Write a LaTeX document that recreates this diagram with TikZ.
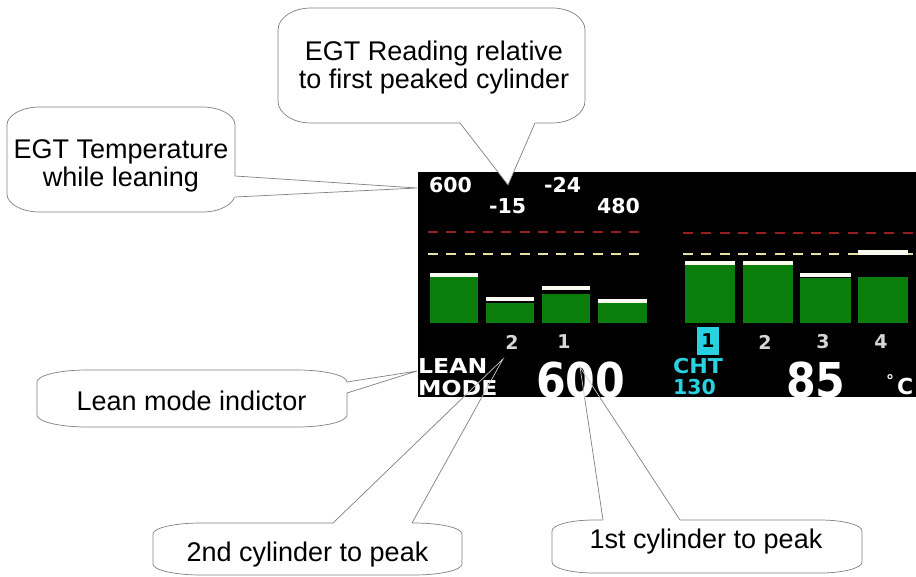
\documentclass[tikz,border=0pt]{standalone}
\usepackage{fontspec}
\usepackage{graphicx}
\setmainfont{Liberation Sans}
\newfontfamily\lcdfont{DejaVu Sans}
\definecolor{outl}{RGB}{128,128,128}
\definecolor{inl}{RGB}{200,200,200}
\definecolor{bargreen}{RGB}{10,125,10}
\definecolor{capwhite}{RGB}{250,250,240}
\definecolor{dashred}{RGB}{150,30,30}
\definecolor{dashyel}{RGB}{230,225,160}
\definecolor{lcdcyan}{RGB}{40,210,225}
\definecolor{lbl}{RGB}{215,215,215}
\tikzset{
  bubblestyle/.style={draw=outl, fill=white, line width=0.7pt},
  ptrline/.style={draw=outl, line width=0.7pt},
  ptrinner/.style={draw=inl, line width=0.7pt},
  calltext/.style={font=\fontsize{27}{28}\selectfont, align=center, inner sep=0pt, text=black},
  lcd/.style={font=\lcdfont\bfseries\fontsize{20.5}{22}\selectfont, inner sep=0pt, text=white, anchor=base west},
  lcdlbl/.style={font=\lcdfont\bfseries\fontsize{19}{20}\selectfont, inner sep=0pt, text=lbl},
  lcdbig/.style={font=\lcdfont\bfseries\fontsize{48}{50}\selectfont, inner sep=0pt, text=white, anchor=base west},
  dashline/.style={line width=2.6pt, dash pattern=on 10pt off 8.3pt},
}
% x1 y1 x2 y2 rx ry
\newcommand\bubble[6]{%
  \filldraw[bubblestyle] (#1,#2+#6)
    arc[start angle=180,end angle=90,x radius=#5pt,y radius=#6pt] -- (#3-#5,#2)
    arc[start angle=90,end angle=0,x radius=#5pt,y radius=#6pt] -- (#3,#4-#6)
    arc[start angle=0,end angle=-90,x radius=#5pt,y radius=#6pt] -- (#1+#5,#4)
    arc[start angle=270,end angle=180,x radius=#5pt,y radius=#6pt] -- cycle;}
% b1 b2 tip b1in b2in
\newcommand\pointer[5]{%
  \fill[white] (#4) -- (#1) -- (#3) -- (#2) -- (#5) -- cycle;
  \draw[ptrline] (#1) -- (#3) -- (#2);}
% x1 x2 capTop capBottom greenTop
\newcommand\egtbar[5]{%
  \fill[bargreen] (#1,#5) rectangle (#2,323);
  \fill[capwhite] (#1,#3) rectangle (#2,#4);}
\begin{document}
\begin{tikzpicture}[x=1pt,y=-1pt]
\useasboundingbox (0,0) rectangle (916,576);
\fill[white] (0,0) rectangle (916,576);

% tips
\coordinate (tip1) at (417,188);
\coordinate (tip2) at (508,185);
\coordinate (tip3) at (417,371);
\coordinate (tip4) at (503,359);
\coordinate (tip5) at (580,367);

% lower callouts (under the display)
\bubble{37}{370}{347}{427}{50}{12}
\pointer{347,382}{347,393}{tip3}{344,382}{344,393}
\bubble{153}{523}{462}{575}{48}{11}
\pointer{333,523}{412,523}{tip4}{333,526}{412,526}
\bubble{552}{520}{862}{573}{42}{11}
\pointer{603,520}{680,520}{tip5}{603,523}{680,523}

% display
\fill[black] (418,172) rectangle (916,397);
\begin{scope}
\clip (418,172) rectangle (916,397);
\draw[dashline, dashred] (428,232) -- (642,232);
\draw[dashline, dashred] (683,233) -- (916,233);
\draw[dashline, dashyel] (428,254) -- (642,254);
\draw[dashline, dashyel] (683,254) -- (916,254);
\egtbar{430}{478}{273}{277.3}{277.3}
\egtbar{486}{534}{296.5}{300.5}{303}
\egtbar{542}{590}{286}{290}{294}
\egtbar{598}{647}{299}{303}{303}
\egtbar{685}{735}{261}{265}{265}
\egtbar{743}{793}{261}{265}{265}
\egtbar{800}{851}{273}{277}{278}
\egtbar{858}{908}{250}{255}{277}
\node[lcd] (n600) at (429,192) {600};
\node[lcd] (nm24) at (544,192) {-24};
\node[lcd] (nm15) at (489,213) {-15};
\node[lcd] (n480) at (597,213) {480};
\node[lcdlbl] (l2a) at (512,342) {2};
\node[lcdlbl] (l1a) at (564,342) {1};
\fill[lcdcyan] (697,327) rectangle (719,355);
\node[lcdlbl, text=black] (l1b) at (708,341) {1};
\node[lcdlbl] (l2b) at (765,342) {2};
\node[lcdlbl] (l3b) at (823,342) {3};
\node[lcdlbl] (l4b) at (881,342) {4};
\node[lcd] (lean) at (418,373) {\scalebox{1.15}[1]{LEAN}};
\node[lcd] (mode) at (418,395) {\scalebox{1.15}[1]{MODE}};
\node[lcd, text=lcdcyan] (cht) at (673,373) {\scalebox{1.08}[1]{CHT}};
\node[lcd, text=lcdcyan] (c130) at (673,394) {130};
\node[lcdbig] (big600) at (536,397) {\scalebox{0.89}[1]{600}};
\node[lcdbig] (big85) at (786,397) {\scalebox{0.89}[1]{85}};
\node[font=\lcdfont\bfseries\fontsize{16}{18}\selectfont, text=white, inner sep=0pt, anchor=base west] (deg) at (886,386) {°};
\node[font=\lcdfont\bfseries\fontsize{22}{24}\selectfont, text=white, inner sep=0pt, anchor=base west] (cee) at (897,394) {C};
\draw[ptrinner] (333,523) -- (tip4) -- (412,523);
\draw[ptrinner] (603,520) -- (tip5) -- (680,520);
\end{scope}

% upper callouts (over the display)
\bubble{7}{107}{235}{212}{33}{18}
\pointer{235,176}{235,197}{tip1}{232,176}{232,197}
\bubble{278}{8}{585}{123}{33}{22}
\pointer{460,123}{535,123}{tip2}{460,120}{535,120}

% callout texts
\node[calltext] (t1) at (121,166) {EGT Temperature\\while leaning};
\node[calltext] (t2) at (434,68) {EGT Reading relative\\to first peaked cylinder};
\node[calltext] (t3) at (191.5,400.5) {Lean mode indictor};
\node[calltext] (t4) at (307.5,555) {2nd cylinder to peak};
\node[calltext] (t5) at (706,542) {1st cylinder to peak};
\end{tikzpicture}
\end{document}
